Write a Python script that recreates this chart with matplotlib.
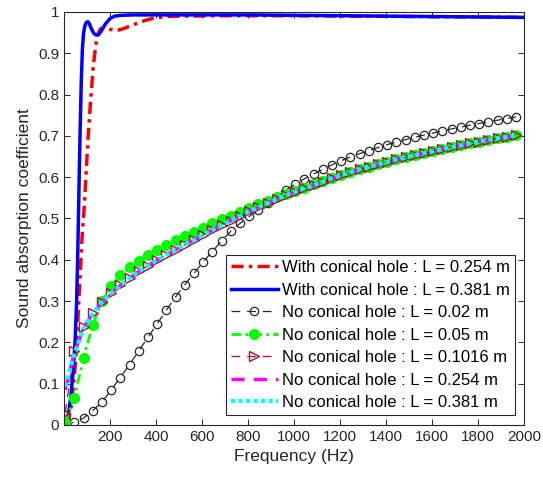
import matplotlib
matplotlib.use("Agg")
import matplotlib.pyplot as plt

plt.rcParams['font.family'] = ['Liberation Sans', 'DejaVu Sans']

# frequency grid of the "no conical hole" curves (one marker per point)
freq = [5, 45, 85, 125, 165, 205, 245, 285, 325, 365,
        405, 445, 485, 525, 565, 605, 645, 685, 725, 765,
        805, 845, 885, 925, 965, 1005, 1045, 1085, 1125, 1165,
        1205, 1245, 1285, 1325, 1365, 1405, 1445, 1485, 1525, 1565,
        1605, 1645, 1685, 1725, 1765, 1805, 1845, 1885, 1925, 1965]

no_hole_002 = [0.0, 0.007, 0.017, 0.035, 0.055, 0.085, 0.115, 0.146, 0.18, 0.212,
               0.245, 0.278, 0.31, 0.34, 0.367, 0.395, 0.42, 0.446, 0.469, 0.488,
               0.505, 0.521, 0.537, 0.553, 0.569, 0.583, 0.596, 0.608, 0.619, 0.630,
               0.640, 0.649, 0.657, 0.664, 0.672, 0.679, 0.685, 0.691, 0.697, 0.702,
               0.707, 0.712, 0.717, 0.721, 0.726, 0.730, 0.734, 0.738, 0.742, 0.746]

no_hole_005 = [0.004, 0.066, 0.163, 0.242, 0.301, 0.337, 0.362, 0.382, 0.398, 0.412,
               0.424, 0.436, 0.447, 0.458, 0.468, 0.478, 0.488, 0.498, 0.507, 0.516,
               0.525, 0.534, 0.542, 0.551, 0.559, 0.567, 0.575, 0.583, 0.591, 0.598,
               0.605, 0.612, 0.619, 0.625, 0.631, 0.637, 0.643, 0.648, 0.653, 0.658,
               0.663, 0.668, 0.673, 0.677, 0.682, 0.686, 0.690, 0.694, 0.698, 0.702]

no_hole_01016 = [0.03, 0.18, 0.238, 0.27, 0.297, 0.319, 0.338, 0.356, 0.372, 0.386,
                 0.399, 0.412, 0.424, 0.436, 0.448, 0.460, 0.472, 0.484, 0.495, 0.506,
                 0.517, 0.527, 0.537, 0.547, 0.556, 0.565, 0.573, 0.581, 0.589, 0.597,
                 0.605, 0.612, 0.619, 0.625, 0.631, 0.637, 0.643, 0.648, 0.653, 0.658,
                 0.663, 0.668, 0.673, 0.677, 0.682, 0.686, 0.690, 0.694, 0.698, 0.702]

no_hole_0254 = [0.085, 0.175, 0.235, 0.27, 0.297, 0.319, 0.338, 0.356, 0.372, 0.386,
                0.399, 0.412, 0.424, 0.436, 0.448, 0.460, 0.472, 0.484, 0.495, 0.506,
                0.517, 0.527, 0.537, 0.547, 0.556, 0.565, 0.573, 0.581, 0.589, 0.597,
                0.605, 0.612, 0.619, 0.625, 0.631, 0.637, 0.643, 0.648, 0.653, 0.658,
                0.663, 0.668, 0.673, 0.677, 0.682, 0.686, 0.690, 0.694, 0.698, 0.702]

no_hole_0381 = [0.093, 0.172, 0.234, 0.27, 0.297, 0.319, 0.338, 0.356, 0.372, 0.386,
                0.399, 0.412, 0.424, 0.436, 0.448, 0.460, 0.472, 0.484, 0.495, 0.506,
                0.517, 0.527, 0.537, 0.547, 0.556, 0.565, 0.573, 0.581, 0.589, 0.597,
                0.605, 0.612, 0.619, 0.625, 0.631, 0.637, 0.643, 0.648, 0.653, 0.658,
                0.663, 0.668, 0.673, 0.677, 0.682, 0.686, 0.690, 0.694, 0.698, 0.702]

# with conical hole, finer sampling near the steep rise
freq_red = [10, 20, 30, 40, 50, 55, 60, 70, 80, 87, 95, 106, 115, 127, 138, 149,
            160, 178, 200, 229, 260, 300, 350, 388, 450, 500, 700, 1000, 1500, 2000]
hole_0254 = [0.0, 0.01, 0.04, 0.09, 0.15, 0.2, 0.25, 0.36, 0.47, 0.52, 0.6, 0.707,
             0.78, 0.867, 0.92, 0.949, 0.96, 0.963, 0.958, 0.955, 0.96, 0.969,
             0.979, 0.985, 0.989, 0.99, 0.991, 0.991, 0.989, 0.987]

freq_blue = [10, 20, 30, 40, 48, 55, 60, 65, 70, 75, 80, 85, 90, 95, 100, 105,
             110, 115, 120, 130, 140, 150, 160, 170, 180, 200, 220, 250, 300, 400,
             600, 800, 1000, 1200, 1400, 1600, 1800, 2000]
hole_0381 = [0.005, 0.03, 0.07, 0.13, 0.2, 0.3, 0.42, 0.57, 0.71, 0.83, 0.91, 0.948,
             0.965, 0.973, 0.976, 0.976, 0.972, 0.965, 0.958, 0.948, 0.944, 0.945,
             0.952, 0.962, 0.971, 0.984, 0.99, 0.992, 0.993, 0.993, 0.993, 0.993,
             0.992, 0.991, 0.99, 0.989, 0.988, 0.987]

labels = ['With conical hole : L = 0.254 m',
          'With conical hole : L = 0.381 m',
          'No conical hole : L = 0.02 m',
          'No conical hole : L = 0.05 m',
          'No conical hole : L = 0.1016 m',
          'No conical hole : L = 0.254 m',
          'No conical hole : L = 0.381 m']

fig = plt.figure(figsize=(5.43, 4.8), dpi=100)
ax = fig.add_axes([64 / 543, 55 / 480, 460 / 543, 413 / 480])

ax.plot(freq_red, hole_0254, color='red', lw=2.5, dashes=(3.5, 1.5, 1, 1.5), label=labels[0])
ax.plot(freq_blue, hole_0381, color='blue', lw=2.5, label=labels[1])
ax.plot(freq, no_hole_002, color='0.15', lw=0.9, dashes=(7, 5.5), marker='o', ms=6,
        mfc='none', mec='0.15', mew=0.9, label=labels[2])
ax.plot(freq, no_hole_005, color=(0, 1, 0), lw=2, dashes=(3.5, 1.5, 1, 1.5), marker='o',
        ms=7, mfc=(0, 1, 0), mec=(0, 1, 0), label=labels[3])
ax.plot(freq, no_hole_01016, color=(0.635, 0.078, 0.184), lw=0.9, dashes=(7, 5.5),
        marker='>', ms=7, mfc='none', mec=(0.635, 0.078, 0.184), mew=1, label=labels[4])
ax.plot(freq, no_hole_0254, color='magenta', lw=2.5, dashes=(3.8, 2.6), label=labels[5])
ax.plot(freq, no_hole_0381, color='cyan', lw=3, dashes=(1, 0.8), label=labels[6])

ax.set_xlim(0, 2000)
ax.set_ylim(0, 1)
ax.set_xticks(range(200, 2001, 200))
ax.set_yticks([0, 0.1, 0.2, 0.3, 0.4, 0.5, 0.6, 0.7, 0.8, 0.9, 1])
ax.set_yticklabels(['0', '0.1', '0.2', '0.3', '0.4', '0.5', '0.6', '0.7', '0.8', '0.9', '1'])
ax.tick_params(direction='in', top=True, right=True, length=4, width=0.7,
               color='0.15', labelcolor='0.15', labelsize=11)
for s in ax.spines.values():
    s.set_color('0.15')
    s.set_linewidth(0.8)

ax.set_xlabel('Frequency (Hz)', fontsize=12.5, color='0.15')
ax.set_ylabel('Sound absorption coefficient', fontsize=12.5, color='0.15')

leg = ax.legend(loc='lower right', bbox_to_anchor=(0.98, 0.024), borderaxespad=0,
                fontsize=12, fancybox=False, framealpha=1, edgecolor='0.15',
                handlelength=2.8, handletextpad=0.25, labelspacing=0.45,
                borderpad=0.3)
leg.get_frame().set_linewidth(0.8)

fig.savefig('out.png', dpi=100)
